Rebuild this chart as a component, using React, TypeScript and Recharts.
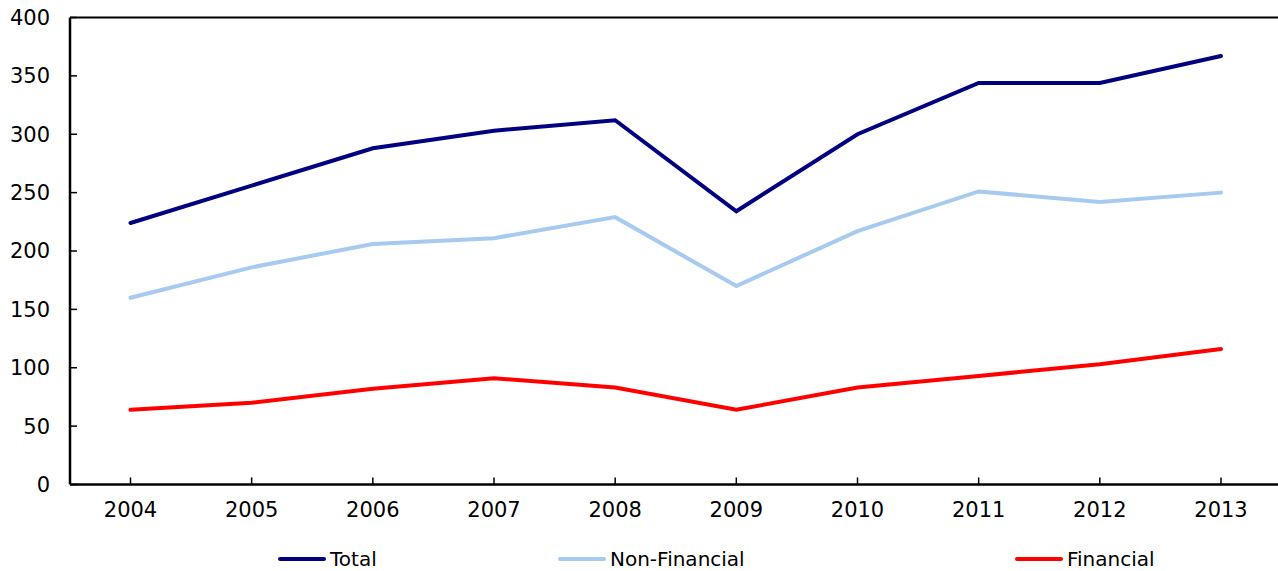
import { CartesianGrid, Line, LineChart, ReferenceLine, XAxis, YAxis } from 'recharts'

const years = ['2004', '2005', '2006', '2007', '2008', '2009', '2010', '2011', '2012', '2013']
const total = [224, 256, 288, 303, 312, 234, 300, 344, 344, 367]
const nonFinancial = [160, 186, 206, 211, 229, 170, 217, 251, 242, 250]
const financial = [64, 70, 82, 91, 83, 64, 83, 93, 103, 116]
const yTicks = [0, 50, 100, 150, 200, 250, 300, 350, 400]

const series = [
  { key: 'total', name: 'Total', color: '#000080' },
  { key: 'nonFinancial', name: 'Non-Financial', color: '#A6CAF0' },
  { key: 'financial', name: 'Financial', color: '#FF0000' },
]

// legend item left edges, as laid out in the source chart
const legendLeft = [278, 558, 1015]

const data = years.map((year, i) => ({
  year,
  total: total[i],
  nonFinancial: nonFinancial[i],
  financial: financial[i],
}))

const font = '"DejaVu Sans", Verdana, sans-serif'

export default function App() {
  return (
    <div
      style={{
        position: 'absolute',
        left: 0,
        top: 0,
        width: 1278,
        height: 571,
        overflow: 'hidden',
        background: '#fff',
        fontFamily: font,
      }}
    >
      <LineChart
        width={1290}
        height={571}
        data={data}
        margin={{ top: 17.5, right: 8.5, bottom: 0, left: 0 }}
      >
        <CartesianGrid stroke="none" />
        <ReferenceLine y={400} stroke="#000" strokeWidth={2} />
        <XAxis
          dataKey="year"
          height={86.5}
          padding={{ left: 60.5, right: 60.5 }}
          axisLine={{ stroke: '#000', strokeWidth: 2.5 }}
          tickLine={{ stroke: '#000', strokeWidth: 1.5 }}
          tickSize={-7}
          tickMargin={25}
          tick={{ fill: '#000', fontSize: 21, fontFamily: font }}
          interval={0}
        />
        <YAxis
          domain={[0, 400]}
          ticks={yTicks}
          width={70}
          axisLine={{ stroke: '#000', strokeWidth: 2.5 }}
          tickLine={{ stroke: '#000', strokeWidth: 1.5 }}
          tickSize={-7}
          tickMargin={27}
          tick={{ fill: '#000', fontSize: 21, fontFamily: font }}
          interval={0}
        />
        {series.map((s) => (
          <Line
            key={s.key}
            type="linear"
            dataKey={s.key}
            name={s.name}
            stroke={s.color}
            strokeWidth={4}
            strokeLinecap="round"
            strokeLinejoin="miter"
            dot={false}
            activeDot={false}
            isAnimationActive={false}
          />
        ))}
      </LineChart>
      {series.map((s, i) => (
        <div
          key={s.key}
          style={{
            position: 'absolute',
            left: legendLeft[i],
            top: 548,
            height: 22,
            lineHeight: '22px',
            display: 'flex',
            alignItems: 'center',
            fontSize: 20,
            color: '#000',
            whiteSpace: 'nowrap',
          }}
        >
          <span
            style={{
              display: 'inline-block',
              width: 48,
              height: 4,
              borderRadius: 2,
              background: s.color,
              marginRight: 4,
            }}
          />
          {s.name}
        </div>
      ))}
    </div>
  )
}
